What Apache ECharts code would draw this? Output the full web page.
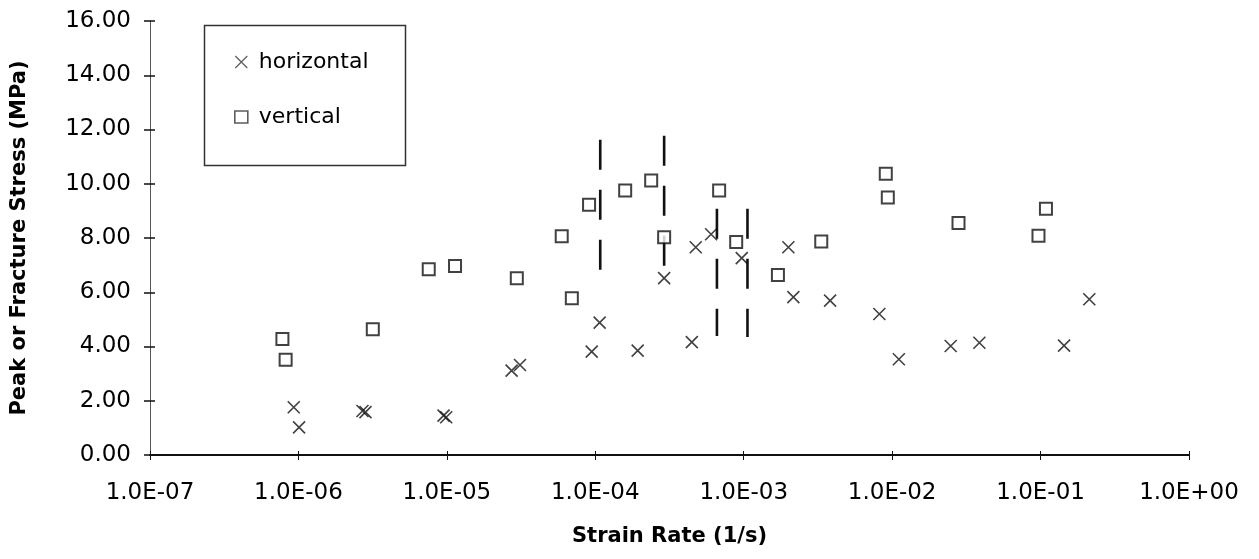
<!DOCTYPE html>
<html>
<head>
<meta charset="utf-8">
<script src="https://cdn.jsdelivr.net/npm/echarts@6/dist/echarts.min.js"></script>
<style>
  html, body { margin: 0; padding: 0; background: #fff; }
  #main { width: 1259px; height: 559px; }
</style>
</head>
<body>
<div id="main"></div>
<script>
// horizontal specimens (x markers)
var horizStrain = [9.3e-7, 1.01e-6, 2.7e-6, 2.83e-6, 9.5e-6, 9.9e-6, 2.73e-5, 3.11e-5,
  9.46e-5, 1.07e-4, 1.93e-4, 2.91e-4, 4.47e-4, 4.75e-4, 6.03e-4, 9.7e-4,
  2.0e-3, 2.16e-3, 3.82e-3, 8.2e-3, 1.11e-2, 2.48e-2, 3.87e-2, 0.144, 0.213];
var horizStress = [1.76, 1.02, 1.62, 1.58, 1.45, 1.39, 3.11, 3.32,
  3.81, 4.88, 3.85, 6.52, 4.16, 7.66, 8.14, 7.26,
  7.66, 5.82, 5.69, 5.20, 3.53, 4.02, 4.14, 4.03, 5.74];

// vertical specimens (squares)
var vertStrain = [7.8e-7, 8.2e-7, 3.17e-6, 7.55e-6, 1.135e-5, 2.96e-5, 5.94e-5, 6.95e-5,
  9.08e-5, 1.59e-4, 2.38e-4, 2.91e-4, 6.83e-4, 8.9e-4, 1.70e-3, 3.33e-3,
  9.06e-3, 9.35e-3, 2.80e-2, 0.0968, 0.1087];
var vertStress = [4.28, 3.51, 4.64, 6.85, 6.97, 6.52, 8.06, 5.78,
  9.23, 9.75, 10.12, 8.03, 9.75, 7.85, 6.64, 7.87,
  10.37, 9.49, 8.55, 8.08, 9.08];

// dashed range bars
var barStrain = [1.08e-4, 2.91e-4, 6.6e-4, 1.06e-3];
var barHigh = [11.62, 11.77, 9.08, 9.08];
var barLow = [6.61, 6.94, 4.39, 4.35];

var xTickLabels = ['1.0E-07', '1.0E-06', '1.0E-05', '1.0E-04', '1.0E-03', '1.0E-02', '1.0E-01', '1.0E+00'];

var crossPath = 'path://M0,0L10,10M0,10L10,0';
var ink = '#000';
var tickFont = { fontFamily: 'DejaVu Sans', fontSize: 23, color: ink };
var titleFont = { fontFamily: 'DejaVu Sans', fontWeight: 'bold', fontSize: 21, color: ink };

var chartDom = document.getElementById('main');
var myChart = echarts.init(chartDom);
var option;

function zip(a, b) {
  return a.map(function (v, i) { return [v, b[i]]; });
}

var barSeries = barStrain.map(function (x, i) {
  return {
    name: 'range' + i,
    type: 'line',
    data: [[x, barHigh[i]], [x, barLow[i]]],
    symbol: 'none',
    silent: true,
    lineStyle: { color: '#111', width: 2.6, type: [30, 20] },
    z: 1
  };
});

option = {
  backgroundColor: '#fff',
  animation: false,
  grid: { left: 150, right: 70, top: 21, bottom: 104 },
  xAxis: [
    {
      type: 'log',
      logBase: 10,
      min: 1e-7,
      max: 1,
      name: 'Strain Rate (1/s)',
      nameLocation: 'middle',
      nameGap: 71,
      nameTextStyle: titleFont,
      axisLine: { lineStyle: { color: '#111', width: 2 } },
      axisTick: { show: true, length: 5, lineStyle: { color: '#111' } },
      axisLabel: Object.assign({
        margin: 27,
        formatter: function (v) {
          var e = Math.round(Math.log10(v));
          return xTickLabels[e + 7];
        }
      }, tickFont),
      splitLine: { show: false }
    },
    {
      type: 'log',
      logBase: 10,
      min: 1e-7,
      max: 1,
      position: 'bottom',
      axisLine: { show: false },
      axisTick: { show: true, inside: true, length: 4, lineStyle: { color: '#111' } },
      axisLabel: { show: false },
      splitLine: { show: false }
    }
  ],
  yAxis: [
    {
      type: 'value',
      min: 0,
      max: 16,
      interval: 2,
      name: 'Peak or Fracture Stress (MPa)',
      nameLocation: 'middle',
      nameGap: 120,
      nameTextStyle: titleFont,
      axisLine: { show: true, lineStyle: { color: '#555', width: 1 } },
      axisTick: { show: true, length: 6, lineStyle: { color: '#111', width: 1.5 } },
      axisLabel: Object.assign({
        margin: 19,
        formatter: function (v) { return v.toFixed(2); }
      }, tickFont),
      splitLine: { show: false }
    },
    {
      type: 'value',
      min: 0,
      max: 16,
      interval: 2,
      position: 'left',
      axisLine: { show: false },
      axisTick: { show: true, inside: true, length: 5, lineStyle: { color: '#111', width: 1.5 } },
      axisLabel: { show: false },
      splitLine: { show: false }
    }
  ],
  legend: {
    orient: 'vertical',
    left: 234,
    top: 50,
    padding: 0,
    itemGap: 31,
    itemWidth: 13,
    itemHeight: 12,
    textStyle: { fontFamily: 'DejaVu Sans', fontSize: 22, lineHeight: 24, color: ink, padding: [0, 0, 0, 6] },
    data: [
      { name: 'horizontal', icon: crossPath, itemStyle: { color: 'transparent', borderColor: '#333', borderWidth: 1.2 } },
      { name: 'vertical', icon: 'rect', itemStyle: { color: '#fff', borderColor: '#333', borderWidth: 1.6 } }
    ]
  },
  graphic: [
    {
      type: 'rect',
      left: 202,
      top: 23,
      shape: { width: 201, height: 140 },
      style: { fill: 'none', stroke: '#333', lineWidth: 1.5 },
      z: 0
    }
  ],
  series: barSeries.concat([
    {
      name: 'horizontal',
      type: 'scatter',
      data: zip(horizStrain, horizStress),
      symbol: crossPath,
      symbolSize: 12,
      itemStyle: { color: 'transparent', borderColor: '#111', borderWidth: 1.6 },
      z: 3
    },
    {
      name: 'vertical',
      type: 'scatter',
      data: zip(vertStrain, vertStress),
      symbol: 'rect',
      symbolSize: 12,
      itemStyle: { color: '#fff', borderColor: '#111', borderWidth: 2 },
      z: 3
    }
  ])
};

option && myChart.setOption(option);
</script>
</body>
</html>
